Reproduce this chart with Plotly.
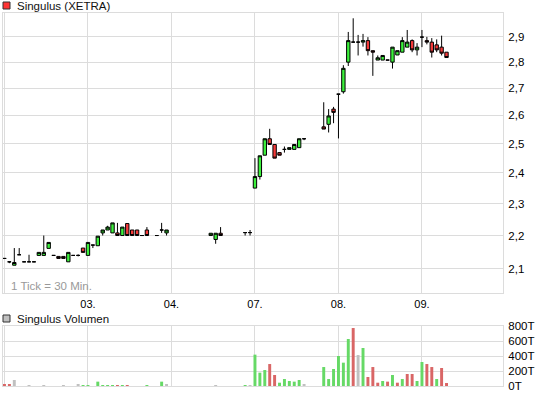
import plotly.graph_objects as go

# ---------------- data ----------------
# x = half-hour slot index (17 slots per trading day, day 02 starts at 0)
slots = [0, 1, 2, 3, 4, 5, 6, 7, 8, 9, 10, 11, 12, 13, 14, 15, 16, 17, 18, 19,
         20, 21, 22, 23, 24, 25, 26, 27, 28, 29, 31, 32, 33,
         42, 43, 44, 49, 50,
         51, 52, 53, 54, 55, 56, 57, 58, 59, 60, 61,
         65, 66, 67, 68, 69, 70, 71, 72, 73, 74, 75, 76, 77, 78, 79, 80,
         81, 82, 83, 84, 85, 86, 87, 88, 89, 90]
opens = [2.131, 2.121, 2.111, 2.142, 2.121, 2.121, 2.121, 2.140, 2.140, 2.161,
         2.140, 2.137, 2.137, 2.121, 2.140, 2.140, 2.162, 2.140, 2.171, 2.169,
         2.208, 2.217, 2.208, 2.208, 2.200, 2.237, 2.217, 2.217, 2.200, 2.217,
         2.200, 2.217, 2.208,
         2.200, 2.188, 2.207, 2.209, 2.209,
         2.350, 2.388, 2.460, 2.517, 2.497, 2.469, 2.480, 2.480, 2.480, 2.486, 2.517,
         2.559, 2.568, 2.623, 2.678, 2.687, 2.800, 2.879, 2.879, 2.879, 2.885,
         2.845, 2.808, 2.808, 2.808, 2.800, 2.828,
         2.839, 2.859, 2.885, 2.848, 2.899, 2.885, 2.879, 2.868, 2.859, 2.839]
highs = [2.131, 2.121, 2.162, 2.162, 2.121, 2.142, 2.121, 2.149, 2.200, 2.179,
         2.140, 2.137, 2.137, 2.149, 2.140, 2.143, 2.162, 2.179, 2.171, 2.198,
         2.217, 2.230, 2.239, 2.239, 2.226, 2.237, 2.217, 2.217, 2.200, 2.226,
         2.200, 2.239, 2.217,
         2.207, 2.207, 2.226, 2.209, 2.217,
         2.450, 2.458, 2.517, 2.552, 2.497, 2.469, 2.490, 2.486, 2.497, 2.517, 2.517,
         2.648, 2.623, 2.631, 2.678, 2.788, 2.920, 2.976, 2.908, 2.912, 2.899,
         2.845, 2.826, 2.826, 2.808, 2.859, 2.845,
         2.899, 2.928, 2.890, 2.875, 2.928, 2.900, 2.895, 2.890, 2.905, 2.839]
lows = [2.131, 2.117, 2.111, 2.142, 2.121, 2.121, 2.121, 2.140, 2.140, 2.161,
        2.140, 2.131, 2.131, 2.121, 2.140, 2.137, 2.149, 2.140, 2.162, 2.169,
        2.200, 2.217, 2.208, 2.200, 2.200, 2.200, 2.200, 2.200, 2.200, 2.200,
        2.200, 2.208, 2.200,
        2.200, 2.175, 2.200, 2.200, 2.200,
        2.350, 2.378, 2.460, 2.497, 2.450, 2.460, 2.469, 2.480, 2.480, 2.486, 2.512,
        2.551, 2.539, 2.572, 2.518, 2.680, 2.785, 2.879, 2.826, 2.861, 2.826,
        2.747, 2.808, 2.808, 2.808, 2.775, 2.828,
        2.839, 2.859, 2.839, 2.826, 2.859, 2.870, 2.818, 2.839, 2.826, 2.818]
closes = [2.131, 2.121, 2.119, 2.142, 2.121, 2.121, 2.121, 2.149, 2.149, 2.179,
          2.140, 2.131, 2.131, 2.149, 2.140, 2.140, 2.149, 2.179, 2.171, 2.198,
          2.217, 2.226, 2.239, 2.200, 2.226, 2.200, 2.200, 2.200, 2.200, 2.200,
          2.200, 2.217, 2.217,
          2.207, 2.207, 2.200, 2.209, 2.209,
          2.388, 2.458, 2.517, 2.497, 2.450, 2.460, 2.480, 2.486, 2.497, 2.517, 2.517,
          2.551, 2.598, 2.611, 2.678, 2.776, 2.885, 2.879, 2.879, 2.885, 2.845,
          2.839, 2.817, 2.826, 2.808, 2.859, 2.845,
          2.885, 2.879, 2.848, 2.859, 2.899, 2.879, 2.839, 2.848, 2.835, 2.818]

# volume in thousands of shares; direction vs previous close: g=up, r=down, n=unchanged
vol_slots = [0, 1, 2, 5, 8, 12, 15, 16, 17, 19, 20, 21, 22, 23, 24, 25, 29, 32, 33,
             43, 49, 50, 51, 52, 53, 54, 55, 56, 57, 58, 59, 60, 61,
             65, 66, 67, 68, 69, 70, 71, 72, 73, 74, 75, 76, 77, 78, 79, 80,
             81, 82, 83, 84, 85, 86, 87, 88, 89, 90]
vol_values = [27, 27, 80, 13, 13, 13, 27, 13, 13, 58, 13, 13, 13, 13, 13, 13, 13, 58, 27,
              13, 13, 13, 418, 178, 213, 293, 147, 44, 93, 67, 58, 80, 27,
              253, 93, 227, 400, 311, 627, 773, 413, 507, 120, 253, 44, 67, 58, 147, 44,
              93, 160, 160, 67, 320, 293, 253, 93, 240, 40]
vol_dirs = ["r", "r", "n", "n", "n", "n", "n", "g", "g", "g", "g", "g", "g", "r", "g", "r", "g", "g", "n",
            "n", "g", "n", "g", "g", "g", "r", "r", "g", "g", "g", "g", "g", "n",
            "g", "g", "g", "g", "g", "g", "r", "n", "g", "r", "r", "r", "g", "r", "g", "r",
            "g", "r", "r", "g", "g", "r", "r", "g", "r", "r"]

day_starts = [0, 17, 34, 51, 68, 85]
day_labels = ["", "03.", "04.", "07.", "08.", "09."]
price_ticks = [2.1, 2.2, 2.3, 2.4, 2.5, 2.6, 2.7, 2.8, 2.9, 3.0]
price_tick_text = ["2,1", "2,2", "2,3", "2,4", "2,5", "2,6", "2,7", "2,8", "2,9", ""]
vol_ticks = [0, 200, 400, 600, 800]
vol_tick_text = ["0T", "200T", "400T", "600T", "800T"]

# ---------------- styling ----------------
GRID = "#dcdcdc"
FONT = "Liberation Sans, Arial, sans-serif"
dir_colors = {"g": "#66d966", "r": "#d96666", "n": "#c0c0c0"}

W, H = 545, 395
L, R, T, B = 3, 42, 13, 9
plot_h = H - T - B  # 373


def py(y):
    return (H - B - y) / plot_h


def px(x):
    return (x - L) / (W - L - R)


fig = go.Figure()
fig.add_trace(go.Candlestick(
    x=slots, open=opens, high=highs, low=lows, close=closes,
    increasing=dict(fillcolor="#3cf03c", line=dict(color="#000000", width=1)),
    decreasing=dict(fillcolor="#f53a3a", line=dict(color="#000000", width=1)),
    whiskerwidth=0, showlegend=False, xaxis="x", yaxis="y", hoverinfo="skip",
))
fig.add_trace(go.Bar(
    x=vol_slots, y=vol_values, marker=dict(color=[dir_colors[d] for d in vol_dirs], line=dict(width=0)),
    showlegend=False, xaxis="x2", yaxis="y2", hoverinfo="skip",
))

xrange = [-0.3, 101.5]
common_x = dict(range=xrange, showgrid=True, gridcolor=GRID, gridwidth=1,
                tickmode="array", tickvals=day_starts, zeroline=False,
                showline=True, linecolor=GRID, linewidth=1, mirror=True, ticks="")

fig.update_layout(
    width=W, height=H, autosize=False,
    margin=dict(l=L, r=R, t=T, b=B, pad=0),
    paper_bgcolor="white", plot_bgcolor="white",
    font=dict(family=FONT, size=11, color="#000000"),
    separators=", ",
    bargap=0.4, boxgap=0.02,
    xaxis=dict(common_x, domain=[0, 1], anchor="y", ticktext=day_labels,
               rangeslider=dict(visible=False), ticklabelstandoff=1,
               tickfont=dict(size=11, color="#000000")),
    yaxis=dict(type="log", domain=[py(293), 1], range=[0.30771, 0.47683],
               side="right", tickmode="array", tickvals=price_ticks, ticktext=price_tick_text,
               showgrid=True, gridcolor=GRID, zeroline=False, showline=True,
               linecolor=GRID, mirror=True, ticks="", ticklabelstandoff=2,
               tickfont=dict(size=11.5, color="#000000")),
    xaxis2=dict(common_x, domain=[0, 1], anchor="y2", showticklabels=False),
    yaxis2=dict(domain=[0, py(326)], range=[0, 800], side="right",
                tickmode="array", tickvals=vol_ticks, ticktext=vol_tick_text,
                showgrid=True, gridcolor=GRID, zeroline=False, showline=True,
                linecolor=GRID, mirror=True, ticks="", ticklabelstandoff=2,
                tickfont=dict(size=11.5, color="#000000")),
)

# legend-like headers
fig.add_shape(type="rect", xref="paper", yref="paper", x0=px(3), x1=px(10), y0=py(9), y1=py(2),
              fillcolor="#ff3333", line=dict(color="#333333", width=1))
fig.add_annotation(text="Singulus (XETRA)", xref="paper", yref="paper", x=px(15), y=py(6),
                   xanchor="left", yanchor="middle", showarrow=False,
                   font=dict(size=11.5, color="#111111"))
fig.add_shape(type="rect", xref="paper", yref="paper", x0=px(3), x1=px(10), y0=py(322), y1=py(315),
              fillcolor="#c0c0c0", line=dict(color="#333333", width=1))
fig.add_annotation(text="Singulus Volumen", xref="paper", yref="paper", x=px(15), y=py(319),
                   xanchor="left", yanchor="middle", showarrow=False,
                   font=dict(size=11.5, color="#111111"))
fig.add_annotation(text="1 Tick = 30 Min.", xref="paper", yref="paper", x=px(9), y=py(286),
                   xanchor="left", yanchor="middle", showarrow=False,
                   font=dict(size=11.5, color="#999999"))

fig.write_html("out.html")
